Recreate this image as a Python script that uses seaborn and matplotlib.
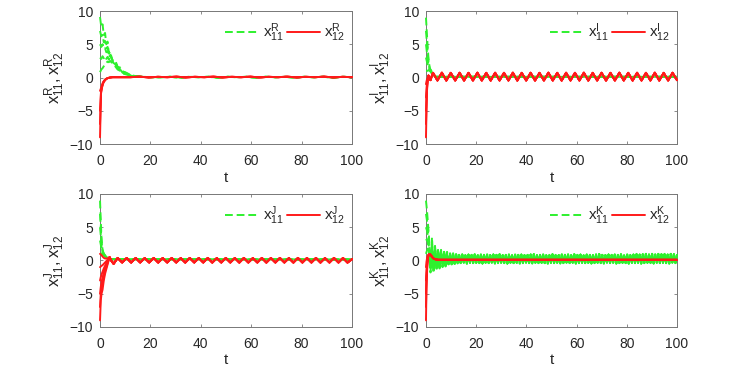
import matplotlib
matplotlib.use("Agg")
import matplotlib.pyplot as plt
import numpy as np
import pandas as pd
import seaborn as sns
from matplotlib.lines import Line2D

# ---------------- data ----------------
X_TICKS = [0, 20, 40, 60, 80, 100]
Y_TICKS = [-10, -5, 0, 5, 10]

# panel R
R_GREEN_T = [0, 0.5, 1, 1.5, 2, 2.5, 3, 3.5, 4, 5, 6, 7, 8, 9, 10, 12, 14, 17, 20]
R_GREEN = [
    [9.1, 7.6, 8.0, 6.4, 6.7, 5.0, 5.4, 3.6, 3.9, 2.4, 2.6, 1.6, 1.5, 0.9, 0.8, 0.4, 0.2, 0.1, 0.05],
    [7.0, 6.2, 6.4, 5.3, 5.5, 4.4, 4.6, 3.5, 3.6, 2.5, 2.4, 1.5, 1.4, 0.9, 0.7, 0.4, 0.2, 0.1, 0.05],
    [5.0, 4.6, 5.0, 4.3, 4.4, 3.8, 3.9, 3.1, 3.3, 2.6, 2.2, 1.5, 1.2, 0.8, 0.6, 0.3, 0.2, 0.1, 0.05],
    [3.0, 2.8, 3.2, 2.9, 3.2, 2.8, 3.1, 2.7, 2.9, 2.3, 2.0, 1.4, 1.2, 0.7, 0.6, 0.3, 0.15, 0.1, 0.05],
    [0.8, 1.2, 1.4, 1.7, 2.0, 2.2, 2.4, 2.3, 2.5, 2.1, 1.7, 1.2, 1.0, 0.6, 0.5, 0.3, 0.15, 0.1, 0.05],
]
R_GREEN_TAIL = [0.05, 0.1, 0.0, 0.1, 0.05, 0.1, 0.0, 0.1, 0.05, 0.1, 0.0, 0.1, 0.05, 0.1, 0.0, 0.1, 0.05,
                0.1, 0.0, 0.1, 0.05]
R_RED_T = [0, 0.2, 0.4, 0.8, 1.2, 1.6, 2, 2.5, 3, 3.5, 4, 5, 6, 8]
R_RED = [
    [-9.0, -5.5, -2.4, -1.5, -0.9, -0.6, -0.4, -0.2, -0.1, -0.05, 0.0, 0.05, 0.05, 0.05],
    [-7.0, -4.6, -2.2, -1.4, -0.9, -0.6, -0.4, -0.2, -0.1, -0.05, 0.0, 0.05, 0.05, 0.05],
    [-5.0, -3.6, -2.0, -1.3, -0.8, -0.55, -0.35, -0.2, -0.1, -0.05, 0.0, 0.05, 0.05, 0.05],
    [-2.0, -1.8, -1.6, -1.1, -0.7, -0.5, -0.3, -0.2, -0.1, -0.05, 0.0, 0.05, 0.05, 0.05],
]
R_RED_TAIL = [0.05, 0.12, 0.02, 0.1, 0.05, 0.12, 0.02, 0.1, 0.05, 0.12, 0.02, 0.1, 0.05, 0.12, 0.02, 0.1,
              0.05, 0.12, 0.02, 0.1, 0.05, 0.12, 0.02, 0.1, 0.05]

# panel I
I_GREEN_T = [0, 0.3, 0.6, 1.0, 1.5, 2.0, 2.5, 3.0, 4.0]
I_GREEN = [
    [9.0, 7.0, 5.0, 2.8, 1.4, 1.1, 0.7, 0.3, 0.1],
    [7.0, 5.6, 4.1, 2.4, 1.3, 1.0, 0.6, 0.3, 0.1],
    [5.0, 4.0, 3.0, 1.9, 1.2, 0.9, 0.6, 0.3, 0.1],
    [3.0, 2.5, 2.0, 1.5, 1.1, 0.9, 0.5, 0.3, 0.1],
    [1.0, 1.0, 1.0, 1.1, 1.0, 0.8, 0.5, 0.3, 0.1],
]
I_GREEN_TAIL = [0.1, 0.1]
I_RED_T = [0, 0.2, 0.4, 0.7, 1.0, 1.4, 1.8, 2.3]
I_RED = [
    [-9.0, -5.0, -2.0, -0.5, 0.3, -0.2, -0.4, 0.2],
    [-7.0, -4.0, -1.6, -0.4, 0.3, -0.2, -0.4, 0.2],
    [-5.0, -3.0, -1.2, -0.3, 0.3, -0.2, -0.4, 0.2],
    [-3.0, -1.8, -0.8, -0.2, 0.3, -0.2, -0.4, 0.2],
    [-1.0, -0.6, -0.3, 0.0, 0.3, -0.2, -0.4, 0.2],
]
I_RED_TAIL = [
    0.70, -0.45, 0.72, -0.46, 0.70, -0.45, 0.71, -0.46, 0.70, -0.45,
    0.72, -0.45, 0.70, -0.46, 0.71, -0.45, 0.70, -0.45, 0.72, -0.46,
    0.70, -0.45, 0.71, -0.46, 0.70, -0.45, 0.72, -0.45, 0.70, -0.46,
    0.71, -0.45, 0.70, -0.45, 0.72, -0.46, 0.70, -0.45, 0.71, -0.46,
    0.70, -0.45, 0.72, -0.45, 0.70, -0.46, 0.71, -0.45, 0.70, -0.45,
    0.72, -0.46, 0.70, -0.45, 0.71, -0.40,
]

# panel J
J_GREEN_T = [0, 0.3, 0.6, 1.0, 1.5, 2.0, 3.0, 4.0]
J_GREEN = [
    [9.0, 6.0, 3.2, 1.6, 1.0, 0.8, 0.4, 0.2],
    [7.0, 5.0, 2.8, 1.5, 1.0, 0.8, 0.4, 0.2],
    [5.0, 3.8, 2.3, 1.3, 0.9, 0.7, 0.4, 0.2],
    [3.0, 2.4, 1.7, 1.1, 0.9, 0.7, 0.4, 0.2],
    [1.0, 1.0, 1.0, 0.9, 0.8, 0.6, 0.4, 0.2],
]
J_GREEN_TAIL = [0.2, 0.15]
J_RED_T = [0, 0.3, 0.6, 1.0, 1.5, 2.0, 2.5, 3.0, 3.8, 4.6, 5.4]
J_RED = [
    [-9.0, -6.0, -5.0, -4.4, -3.0, -2.0, -1.3, -0.6, 0.5, -0.1, -0.5],
    [-7.0, -5.0, -4.2, -3.5, -2.5, -1.6, -1.0, -0.4, 0.5, -0.1, -0.5],
    [-5.0, -4.0, -3.2, -2.6, -1.8, -1.2, -0.7, -0.2, 0.5, -0.1, -0.5],
    [-3.0, -2.5, -2.1, -1.7, -1.2, -0.8, -0.4, 0.0, 0.5, -0.1, -0.5],
    [-1.0, -0.9, -0.8, -0.7, -0.5, -0.3, -0.1, 0.1, 0.5, -0.1, -0.5],
    [1.0, 0.9, 0.8, 0.6, 0.4, 0.3, 0.3, 0.3, 0.5, -0.1, -0.5],
]
J_RED_TAIL = [
    0.38, -0.30, 0.37, -0.31, 0.38, -0.30, 0.36, -0.30, 0.38, -0.31,
    0.37, -0.30, 0.38, -0.30, 0.36, -0.31, 0.38, -0.30, 0.37, -0.30,
    0.38, -0.31, 0.36, -0.30, 0.38, -0.30, 0.37, -0.31, 0.38, -0.30,
    0.36, -0.30, 0.38, -0.31, 0.37, -0.30, 0.38, -0.30, 0.36, -0.31,
    0.38, -0.30, 0.37, -0.30, 0.38, -0.31, 0.36, -0.30, 0.38, -0.30,
    0.37, -0.31, 0.20,
]

# panel K
K_GREEN_T = [0, 0.4, 0.8, 1.2, 1.8, 2.4, 3.0, 3.6, 4.2, 4.8, 5.4, 6.0, 6.6, 7.2, 7.8, 8.4, 9.0, 9.6,
             10.2, 10.8, 11.4, 12.0, 12.6]
K_GREEN = [
    [9.0, 7.5, 5.5, 3.5, -1.8, 2.5, -1.6, 2.0, -1.4, 1.8, -1.2, 1.6, -1.0, 1.4, -0.9, 1.3, -0.8, 1.2,
     -0.7, 1.1, -0.6, 1.0, -0.5],
    [7.0, 6.0, 4.5, 2.5, -1.5, 3.5, -1.9, 2.2, -1.2, 1.7, -1.0, 1.5, -0.9, 1.3, -0.8, 1.2, -0.7, 1.1,
     -0.6, 1.0, -0.5, 0.95, -0.45],
    [5.0, 4.5, 3.5, 2.0, -1.0, 2.8, -1.3, 1.9, -1.1, 1.6, -0.9, 1.4, -0.8, 1.3, -0.7, 1.2, -0.6, 1.1,
     -0.6, 1.0, -0.5, 0.95, -0.45],
    [3.0, 3.2, 2.5, 1.2, -0.5, 1.9, -1.0, 1.5, -0.7, 1.3, -0.6, 1.1, -0.5, 1.0, -0.5, 1.0, -0.5, 0.95,
     -0.45, 0.9, -0.45, 0.9, -0.4],
    [1.0, 1.5, 1.8, 0.5, -1.0, 1.5, -0.8, 1.4, -0.6, 1.2, -0.5, 1.0, -0.5, 0.9, -0.5, 0.9, -0.45, 0.9,
     -0.4, 0.9, -0.4, 0.9, -0.4],
]
K_GREEN_TAIL = [
    0.85, -0.40, 0.90, -0.35, 0.80, -0.45, 0.90, -0.35, 0.85, -0.40, 0.95, -0.35, 0.80, -0.40, 0.90, -0.45, 0.85, -0.35, 0.90, -0.40,
    0.80, -0.35, 0.90, -0.45, 0.85, -0.40, 0.95, -0.35, 0.80, -0.40, 0.85, -0.45, 0.90, -0.35, 0.80, -0.40, 0.90, -0.35, 0.85, -0.45,
    0.90, -0.40, 0.80, -0.35, 0.85, -0.40, 0.90, -0.45, 0.95, -0.35, 0.80, -0.40, 0.85, -0.35, 0.90, -0.40, 0.80, -0.45, 0.85, -0.35,
    0.95, -0.40, 0.85, -0.35, 0.80, -0.45, 0.90, -0.40, 0.85, -0.35, 0.90, -0.40, 0.80, -0.35, 0.95, -0.45, 0.85, -0.40, 0.90, -0.35,
    0.80, -0.40, 0.90, -0.35, 0.85, -0.45, 0.80, -0.40, 0.90, -0.35, 0.95, -0.40, 0.85, -0.45, 0.80, -0.35, 0.90, -0.40, 0.85, -0.35,
    0.90, -0.45, 0.85, -0.40, 0.95, -0.35, 0.80, -0.40, 0.90, -0.45, 0.85, -0.35, 0.90, -0.40, 1.00, -0.35, 0.90, -0.45, 0.95, -0.40,
    1.00, -0.35, 0.90, -0.40, 1.00, -0.45, 0.90, -0.35, 1.00, -0.40, 0.95, -0.35, 1.00, -0.40, 0.90, -0.45, 1.00, -0.35, 0.95, -0.40,
    0.90,
]
K_RED_T = [0, 0.2, 0.5, 0.8, 1.2, 1.6, 2.0, 2.5, 3.0, 4.0, 5.0]
K_RED = [
    [-9.0, -4.0, -1.0, 0.4, 0.9, 0.95, 0.8, 0.5, 0.3, 0.15, 0.1],
    [-7.0, -3.2, -0.7, 0.5, 0.9, 0.95, 0.8, 0.5, 0.3, 0.15, 0.1],
    [-5.0, -2.4, -0.4, 0.6, 0.9, 0.95, 0.8, 0.5, 0.3, 0.15, 0.1],
    [-3.0, -1.4, 0.0, 0.7, 0.9, 0.95, 0.8, 0.5, 0.3, 0.15, 0.1],
    [-1.0, -0.2, 0.5, 0.8, 0.95, 0.95, 0.8, 0.5, 0.3, 0.15, 0.1],
]
K_RED_TAIL = [0.1, 0.1]

GREEN = "#2ef02e"
RED = "#ff1a1a"


def series_frame(t_head, heads, tail_start, tail_values, series):
    rows = []
    tail_t = np.linspace(tail_start, 100, len(tail_values))
    for k, head in enumerate(heads):
        for t, v in zip(t_head, head):
            rows.append((series, f"{series}{k}", t, v))
        for t, v in zip(tail_t, tail_values):
            rows.append((series, f"{series}{k}", t, v))
    return pd.DataFrame(rows, columns=["series", "traj", "t", "value"])


panels = [
    ("R", [0.1348, 0.6129, 0.3396, 0.3575], ", ",
     (R_GREEN_T, R_GREEN, 24, R_GREEN_TAIL), (R_RED_T, R_RED, 12, R_RED_TAIL)),
    ("I", [0.5741, 0.6129, 0.3383, 0.3575], ",",
     (I_GREEN_T, I_GREEN, 6, I_GREEN_TAIL), (I_RED_T, I_RED, 2.8, I_RED_TAIL)),
    ("J", [0.1348, 0.1210, 0.3396, 0.3575], ", ",
     (J_GREEN_T, J_GREEN, 6, J_GREEN_TAIL), (J_RED_T, J_RED, 7.0, J_RED_TAIL)),
    ("K", [0.5741, 0.1210, 0.3383, 0.3575], ", ",
     (K_GREEN_T, K_GREEN, 13.2, K_GREEN_TAIL), (K_RED_T, K_RED, 7, K_RED_TAIL)),
]

sns.set_style("ticks")
plt.rcParams["font.family"] = ["Liberation Sans", "DejaVu Sans"]
plt.rcParams["mathtext.fontset"] = "custom"
plt.rcParams["mathtext.rm"] = "Liberation Sans"
plt.rcParams["mathtext.it"] = "Liberation Sans"

fig = plt.figure(figsize=(7.42, 3.72), dpi=100)
FS = 10

for comp, pos, sep, green, red in panels:
    ax = fig.add_axes(pos)
    df = pd.concat([series_frame(*green, "x11"), series_frame(*red, "x12")], ignore_index=True)
    sns.lineplot(data=df, x="t", y="value", units="traj", estimator=None, sort=False,
                 hue="series", hue_order=["x11", "x12"], palette={"x11": GREEN, "x12": RED},
                 style="series", dashes={"x11": (4, 2), "x12": ""}, linewidth=1.4,
                 legend=False, ax=ax)
    for ln in ax.get_lines():
        ln.set_clip_on(False)
        ln.set_zorder(3)
    ax.set_xlim(0, 100)
    ax.set_ylim(-10, 10)
    ax.set_xticks(X_TICKS)
    ax.set_yticks(Y_TICKS)
    ax.tick_params(direction="in", top=True, right=True, length=2.5, width=0.6,
                   color="#777777", labelcolor="#262626", labelsize=FS)
    ax.tick_params(axis="x", pad=7)
    ax.tick_params(axis="y", pad=5)
    for sp in ax.spines.values():
        sp.set_visible(True)
        sp.set_color("#777777")
        sp.set_linewidth(0.7)
    ax.set_xlabel("t", fontsize=FS + 1, color="#262626", labelpad=2)
    ax.set_ylabel(rf"$\mathregular{{x_{{11}}^{{{comp}}}{sep}x_{{12}}^{{{comp}}}}}$",
                  fontsize=FS + 2, color="#262626", labelpad=2)
    handles = [Line2D([], [], color=GREEN, lw=1.4, dashes=(4, 2)),
               Line2D([], [], color=RED, lw=1.4)]
    labels = [rf"$\mathregular{{x_{{11}}^{{{comp}}}}}$", rf"$\mathregular{{x_{{12}}^{{{comp}}}}}$"]
    ax.legend(handles, labels, loc="upper right", bbox_to_anchor=(1.016, 1.0), ncol=2,
              frameon=False, fontsize=FS + 1, handlelength=2.2, handletextpad=0.25,
              columnspacing=0.2, borderaxespad=0.3)

fig.savefig("out.png", dpi=100)
